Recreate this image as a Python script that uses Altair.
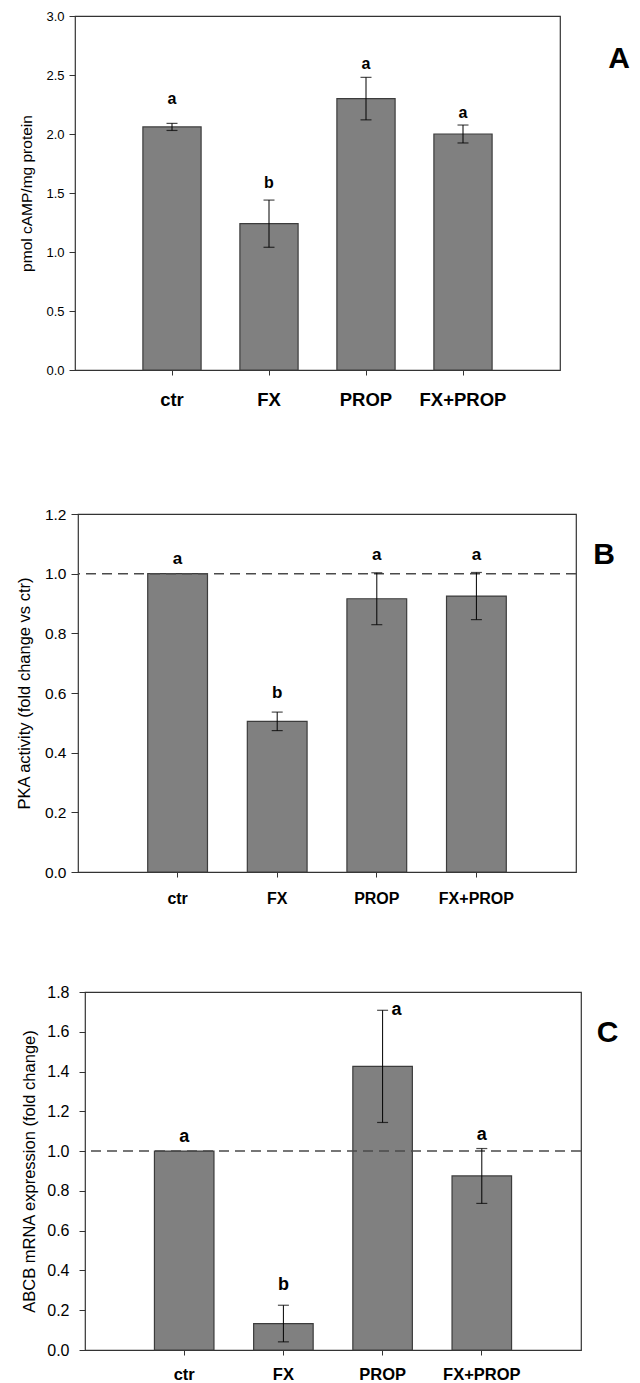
import altair as alt
import pandas as pd

FONT = "Liberation Sans"

cats = ["ctr", "FX", "PROP", "FX+PROP"]

# Panel A: cAMP
a_vals = [2.06, 1.24, 2.30, 2.00]
a_errs = [0.03, 0.20, 0.18, 0.076]
a_letters = ["a", "b", "a", "a"]
a_letter_y = [2.30, 1.585, 2.593, 2.178]
a_letter_dx = [0, 0, 0, 0]
a_ticks = [0.0, 0.5, 1.0, 1.5, 2.0, 2.5, 3.0]
a_title = "pmol cAMP/mg protein"

# Panel B: PKA activity
b_vals = [1.0, 0.505, 0.916, 0.925]
b_errs = [0.0, 0.031, 0.087, 0.079]
b_letters = ["a", "b", "a", "a"]
b_letter_y = [1.048, 0.60, 1.061, 1.061]
b_letter_dx = [0, 0, 0, 0]
b_ticks = [0.0, 0.2, 0.4, 0.6, 0.8, 1.0, 1.2]
b_title = "PKA activity (fold change vs ctr)"

# Panel C: ABCB mRNA
c_vals = [1.0, 0.133, 1.426, 0.875]
c_errs = [0.0, 0.092, 0.282, 0.138]
c_letters = ["a", "b", "a", "a"]
c_letter_y = [1.073, 0.325, 1.709, 1.08]
c_letter_dx = [0, 0, 14, 0]
c_ticks = [0.0, 0.2, 0.4, 0.6, 0.8, 1.0, 1.2, 1.4, 1.6, 1.8]
c_title = "ABCB mRNA expression (fold change)"

ref_value = 1.0

ONE = pd.DataFrame({"d": [0]})


def panel(vals, errs, letters, letter_y, letter_dx, ymax, ticks, ytitle, W, H,
          st, ref, tag, tag_xy, spacer):
    df = pd.DataFrame({"cat": cats, "val": vals, "err": errs,
                       "letter": letters, "ly": letter_y, "ldx": letter_dx})
    df["lo"] = df["val"] - df["err"]
    df["hi"] = df["val"] + df["err"]

    xscale = alt.Scale(paddingInner=0.4, paddingOuter=0.7)
    xaxis = alt.Axis(title=None, labelAngle=0, labelFont=FONT,
                     labelFontWeight="bold", labelFontSize=st["xl"],
                     labelColor="#000", labelPadding=st["xpad"], tickSize=5,
                     tickColor="#333", domain=False, grid=False,
                     labelOverlap=False)
    x = alt.X("cat:N", sort=cats, scale=xscale, axis=xaxis)
    yscale = alt.Scale(domain=[0, ymax], nice=False, zero=True)
    yaxis = alt.Axis(values=ticks, format=".1f", title=ytitle, titleFont=FONT,
                     titleFontSize=st["tf"], titleFontWeight="normal",
                     titleColor="#000", titleAngle=270, titleBaseline="bottom",
                     titleAlign="center", titleX=st["tx"], titleY=H / 2,
                     labelFont=FONT, labelFontSize=st["lf"], labelColor="#000",
                     labelPadding=st["lpad"], tickSize=st["ts"],
                     tickColor="#333", domain=False, grid=False,
                     labelOverlap=False, labelSeparation=0, labelBound=False,
                     tickCount=len(ticks))

    def Y(field):
        return alt.Y(field, scale=yscale, axis=yaxis, title=ytitle)

    base = alt.Chart(df)
    bars = base.mark_bar(color="#808080", stroke="#3c3c3c",
                         strokeWidth=1.2).encode(x=x, y=Y("val:Q"))
    layers = [bars]
    if ref is not None:
        layers.append(
            alt.Chart(ONE).mark_rule(color="#4a4a4a", strokeWidth=1.5,
                                     strokeDash=[10, 6]).encode(y=alt.datum(ref))
        )
    eb = base.transform_filter("datum.err > 0")
    layers.append(eb.mark_rule(color="#000", strokeWidth=1).encode(
        x=x, y=Y("lo:Q"), y2="hi:Q"))
    layers.append(eb.mark_tick(color="#000", size=11, thickness=1.2).encode(
        x=x, y=Y("lo:Q")))
    layers.append(eb.mark_tick(color="#000", size=11, thickness=1.2).encode(
        x=x, y=Y("hi:Q")))
    layers.append(base.transform_filter("datum.ldx == 0").mark_text(
        font=FONT, fontWeight="bold", fontSize=st["let"], color="#000",
        baseline="middle", align="center").encode(
        x=x, y=Y("ly:Q"), text="letter:N"))
    layers.append(base.transform_filter("datum.ldx != 0").mark_text(
        font=FONT, fontWeight="bold", fontSize=st["let"], color="#000",
        baseline="middle", align="center", dx=14).encode(
        x=x, y=Y("ly:Q"), text="letter:N"))
    layers.append(alt.Chart(ONE).mark_text(
        text=tag, font=FONT, fontWeight="bold", fontSize=30, color="#000",
        align="center", baseline="middle").encode(
        x=alt.value(tag_xy[0]), y=alt.value(tag_xy[1])))
    # invisible layout spacer that fixes the panel's outer extent
    layers.append(alt.Chart(ONE).mark_rule(strokeOpacity=0, strokeWidth=0.1).encode(
        x=alt.value(spacer[0]), y=alt.value(spacer[1]), y2=alt.value(spacer[2])))
    return alt.layer(*layers).properties(width=W, height=H)


def shifted(p, w):
    blank = alt.Chart(ONE).mark_rule(strokeOpacity=0, strokeWidth=0.1).encode(
        x=alt.value(0), y=alt.value(0), y2=alt.value(1)
    ).properties(width=w, height=1, view=alt.ViewBackground(strokeOpacity=0))
    return alt.hconcat(blank, p, spacing=0)


SX = -65
pA = panel(a_vals, a_errs, a_letters, a_letter_y, a_letter_dx, 3.0, a_ticks,
           a_title, 485, 354,
           dict(xl=18.5, xpad=15, tf=15.5, tx=-40.7, lf=13, lpad=5, ts=6, let=16),
           None, "A", (544, 43), (SX, -7, 431.5))
pB = panel(b_vals, b_errs, b_letters, b_letter_y, b_letter_dx, 1.2, b_ticks,
           b_title, 498, 358,
           dict(xl=16, xpad=13, tf=16.5, tx=-45.3, lf=15.5, lpad=5, ts=7, let=17),
           ref_value, "B", (526, 41.4), (SX, -63.6, 413))
pC = panel(c_vals, c_errs, c_letters, c_letter_y, c_letter_dx, 1.8, c_ticks,
           c_title, 496, 358,
           dict(xl=16.5, xpad=11, tf=16.5, tx=-48, lf=16, lpad=10, ts=6, let=18),
           ref_value, "C", (522.7, 41.3), (SX, -62.7, 385))

chart = alt.vconcat(shifted(pA, 1), shifted(pB, 4), shifted(pC, 11),
                    spacing=0).properties(
    padding=0, background="white"
).configure_view(stroke="#333", strokeWidth=1.2).configure_axis(
    labelOverlap=False
)

chart.save("out.html", embed_options={"renderer": "svg", "actions": False})
